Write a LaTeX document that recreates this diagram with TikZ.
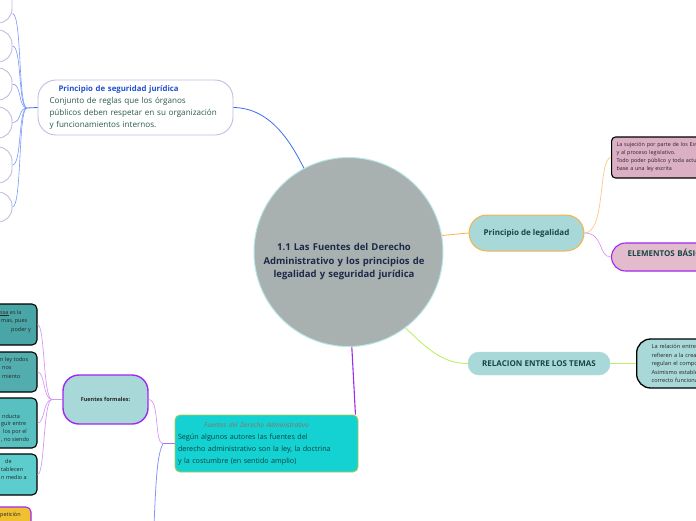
\documentclass[tikz,border=0pt]{standalone}
\usepackage{fontspec}
\setmainfont{Open Sans}
\usetikzlibrary{calc}
\definecolor{lav}{HTML}{C4BCE0}
\definecolor{blueA}{HTML}{3C6CF0}
\definecolor{blueB}{HTML}{7898F8}
\definecolor{titleblue}{HTML}{2050D0}
\definecolor{bodygreen}{HTML}{2A5A48}
\definecolor{cgray}{HTML}{A8B0B0}
\definecolor{cborder}{HTML}{B8E6E6}
\definecolor{navy}{HTML}{1C2A48}
\definecolor{teal1}{HTML}{A8D8D8}
\definecolor{orange1}{HTML}{F4B448}
\definecolor{orange2}{HTML}{FCC884}
\definecolor{darkteal}{HTML}{174646}
\definecolor{pink1}{HTML}{DCB0C4}
\definecolor{pink2}{HTML}{E2BCCC}
\definecolor{purple1}{HTML}{A028F0}
\definecolor{purple2}{HTML}{D498F8}
\definecolor{green1}{HTML}{BCF068}
\definecolor{cyan1}{HTML}{14D2D2}
\definecolor{olive1}{HTML}{B8C848}
\definecolor{brown1}{HTML}{8A7068}
\definecolor{darkteal2}{HTML}{0E4040}
\definecolor{bluedown}{HTML}{8494FA}
\definecolor{tealA}{HTML}{4AA6A6}
\definecolor{tealB}{HTML}{52AEAE}
\definecolor{tealC}{HTML}{58C0C0}
\definecolor{tealD}{HTML}{5CCCCC}
\definecolor{yellow1}{HTML}{F0C030}
\begin{document}
\begin{tikzpicture}[x=1pt,y=-1pt,
  tlbox/.style={draw=lav, line width=0.9pt, fill=white, rounded corners=14pt, minimum width=52pt, inner sep=0pt},
  lbox/.style={draw=black, line width=1.1pt, rounded corners=5pt, minimum width=80pt, inner sep=0pt},
  frag/.style={anchor=west, inner sep=0pt, font=\fontsize{5.5}{7}\selectfont, text=black!85},
  bconn/.style={draw=blueA, line width=0.8pt},
  bconn2/.style={draw=blueB, line width=0.6pt},
  pconn/.style={draw=purple2, line width=0.7pt}]
\useasboundingbox (0,0) rectangle (696,520);
\clip (0,0) rectangle (696,520);

% top-left partial boxes
\node[tlbox, minimum height=38pt] (tl1) at (-14,4) {};
\node[tlbox, minimum height=32pt] (tl2) at (-14,46) {};
\node[tlbox, minimum height=32pt] (tl3) at (-14,84) {};
\node[tlbox, minimum height=31pt] (tl4) at (-14,122.5) {};
\node[tlbox, minimum height=36pt] (tl5) at (-14,165) {};
\node[tlbox, minimum height=30pt] (tl6) at (-14,207) {};

% seguridad box
\node[draw=lav, line width=0.9pt, fill=white, rounded corners=18pt, minimum width=195pt, minimum height=55pt,
  text width=172pt, align=left, inner sep=0pt, font=\fontsize{8.1}{11.7}\selectfont, text=bodygreen] (seg) at (135.5,107.5)
  {\hspace*{9pt}{\bfseries\color{titleblue}\fontsize{7.8}{11.7}\selectfont Principio de seguridad jurídica}\\Conjunto de reglas que los órganos\\públicos deben respetar en su organización\\y funcionamientos internos.};

\coordinate (j1) at (27,108);
\draw[bconn] (j1) -- (seg.west);
\draw[bconn2] (j1) .. controls (18,108) and (22,14) .. (tl1.-20);
\draw[bconn2] (j1) .. controls (18,108) and (22,46) .. (tl2.east);
\draw[bconn2] (j1) .. controls (18,108) and (22,84) .. (tl3.east);
\draw[bconn2] (j1) .. controls (18,108) and (22,122.5) .. (tl4.east);
\draw[bconn2] (j1) .. controls (18,108) and (22,165) .. (tl5.east);
\draw[bconn2] (j1) .. controls (18,108) and (22,207) .. (tl6.east);

% central circle
\node[circle, minimum size=189pt, fill=cgray, draw=cborder, line width=1pt, inner sep=0pt] (c) at (348.5,252) {};
\node[text width=200pt, align=center, font=\bfseries\fontsize{9.5}{13.5}\selectfont, text=navy] (ctext) at (344,262)
  {1.1 Las Fuentes del Derecho\\Administrativo y los principios de\\legalidad y seguridad jurídica};

\draw[bconn] (seg.east) .. controls (272,108) and (292,145) .. (c.118);

% legalidad
\node[draw=orange1, line width=1pt, fill=teal1, rounded corners=18pt, minimum width=115pt, minimum height=36pt,
  font=\bfseries\fontsize{8}{9}\selectfont, text=darkteal] (leg) at (526.5,233) {Principio de legalidad};
\draw[draw=orange1, line width=0.8pt] (c.10) -- (leg.west);

\node[draw=black, line width=1.1pt, fill=pink1, rounded corners=4pt, minimum width=160pt, minimum height=41pt, anchor=west,
  text width=150pt, align=left, inner sep=4pt, font=\fontsize{5.4}{8}\selectfont, text=black!85] (ley) at (611,157.5)
  {La sujeción por parte de los Estados\\y al proceso legislativo.\\Todo poder público y toda actuación\\base a una ley escrita};
\node[draw=purple1, line width=1.1pt, fill=pink2, rounded corners=14pt, minimum width=150pt, minimum height=28pt, anchor=west,
  text width=118pt, align=left, inner sep=0pt, font=\bfseries\fontsize{8}{9}\selectfont, text=darkteal] (elem) at (611,257)
  {ELEMENTOS BÁSICOS\\\mbox{}};
\draw[draw=orange2, line width=0.7pt] (leg.east) .. controls (606,233) and (598,158) .. (ley.west);
\draw[pconn] (leg.east) .. controls (604,233) and (598,257) .. (elem.west);

% relacion
\node[fill=teal1, draw=teal1, rounded corners=11pt, minimum width=142pt, minimum height=23pt,
  font=\bfseries\fontsize{8}{9}\selectfont, text=darkteal] (rel) at (539,363.5) {RELACION ENTRE LOS TEMAS};
\node[draw=black, line width=1.3pt, fill=teal1, rounded corners=14pt, minimum width=150pt, minimum height=49pt, anchor=west,
  text width=120pt, align=left, inner sep=0pt, font=\fontsize{5.6}{8.5}\selectfont, text=black!85] (reld) at (636,363.5)
  {La relación entre ambos\\refieren a la creación\\regulan el comportamiento\\Asimismo establecen\\correcto funcionamiento};
\draw[draw=green1, line width=0.9pt] (c.-53) .. controls (430,352) and (445,363.5) .. (rel.west);
\draw[draw=green1, line width=0.9pt] (rel.east) -- (reld.west);

% fuentes del derecho administrativo
\node[draw=olive1, line width=0.9pt, fill=cyan1, rounded corners=5pt, minimum width=183pt, minimum height=57pt,
  text width=177pt, align=left, inner sep=0pt, font=\fontsize{7.2}{12}\selectfont, text=darkteal2] (fda) at (266.5,443.5)
  {\makebox[157pt]{\fontsize{6.6}{12}\selectfont\itshape\color{brown1}Fuentes del Derecho Administrativo}\\Según algunos autores las fuentes del\\derecho administrativo son la ley, la doctrina\\y la costumbre (en sentido amplio)};
\draw[draw=purple1, line width=1.1pt] (c.-88) -- ($(fda.north east)+(-3,0)$);

% fuentes formales
\node[draw=purple1, line width=1.4pt, fill=teal1, rounded corners=16pt, minimum width=85pt, minimum height=49pt,
  font=\bfseries\fontsize{5.5}{7}\selectfont, text=black!85] (ff) at (105.5,399.5) {Fuentes formales:};
\coordinate (j2) at (163,443.5);
\coordinate (bend) at (154,525);
\draw[draw=purple1!70, line width=0.9pt] (fda.west) -- (j2);
\draw[pconn] (ff.east) .. controls (160,400) and (154,443.5) .. (j2);
\draw[draw=bluedown, line width=0.8pt] (j2) .. controls (157,455) and (156,480) .. (bend);

% left boxes
\node[lbox, fill=tealA, minimum height=41pt] (la) at (-3,324.5) {};
\node[lbox, fill=tealB, minimum height=40pt] (lb) at (-3,372) {};
\node[lbox, fill=tealC, minimum height=50pt] (lc) at (-3,423) {};
\node[lbox, fill=tealD, minimum height=41pt] (ld) at (-3,474.5) {};
\node[lbox, fill=yellow1, draw=purple1, minimum height=33pt] (ly) at (-9,523.5) {};

\coordinate (j3) at (52,399.5);
\draw[pconn] (ff.west) -- (j3);
\draw[pconn] (j3) .. controls (43,399.5) and (45,324.5) .. (la.east);
\draw[pconn] (j3) .. controls (43,399.5) and (45,372) .. (lb.east);
\draw[pconn] (j3) .. controls (43,399.5) and (45,423) .. (lc.east);
\draw[pconn] (j3) .. controls (43,399.5) and (45,474.5) .. (ld.east);

\node[frag] (fa1) at (0,313) {\underline{ssa} es la};
\node[frag] (fa2) at (1,321.5) {mas, pues};
\node[frag] (fa3) at (11,330) {poder y};
\node[frag] (fb1) at (0,360) {n ley todos};
\node[frag] (fb2) at (2,368.5) {nos};
\node[frag] (fb3) at (2,377) {miento};
\node[frag] (fc1) at (2,416) {nducta};
\node[frag] (fc2) at (1,424) {guir entre};
\node[frag] (fc3) at (3,432) {los por el};
\node[frag] (fc4) at (1,440) {, no siendo};
\node[frag] (fd1) at (5,461) {de};
\node[frag] (fd2) at (1,469) {tablecen};
\node[frag] (fd3) at (1,477) {n medio a};
\node[frag] (fy1) at (0,515) {petición};
\end{tikzpicture}
\end{document}
